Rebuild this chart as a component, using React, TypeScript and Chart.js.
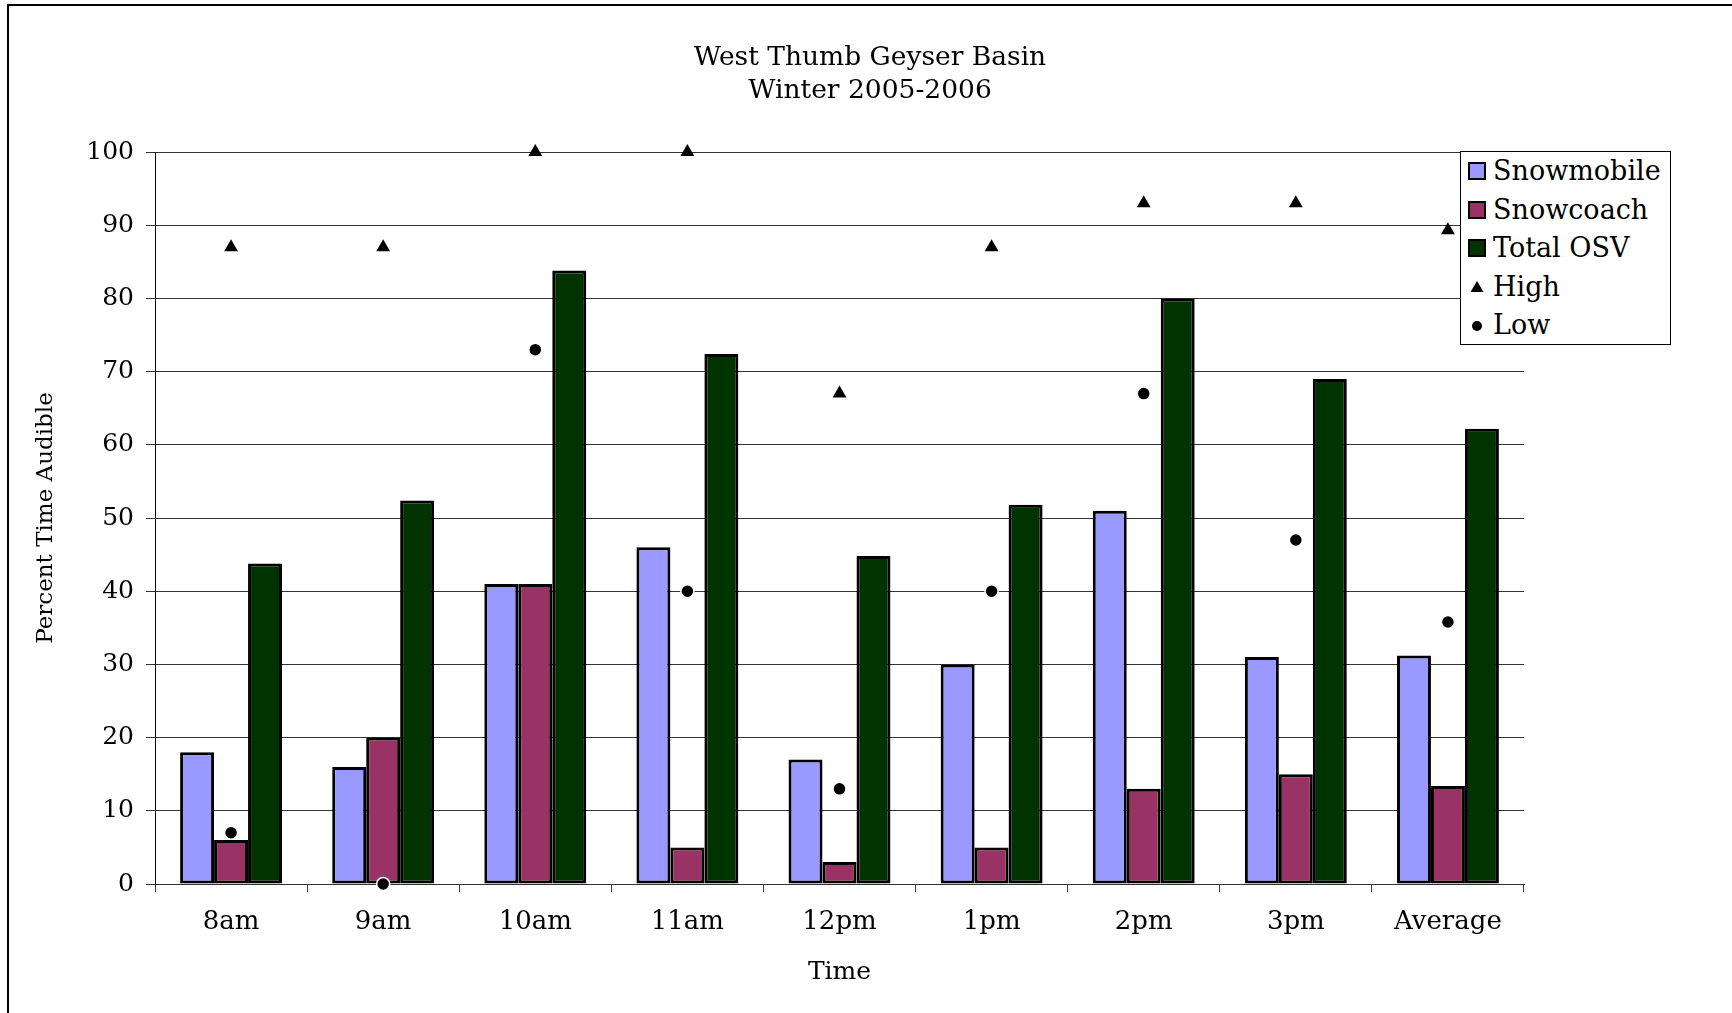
import React, { useEffect, useRef } from "react";
import { Chart, registerables } from "chart.js";

Chart.register(...registerables);

const categories = ["8am", "9am", "10am", "11am", "12pm", "1pm", "2pm", "3pm", "Average"];
const snowmobile = [18, 16, 41, 46, 17, 30, 51, 31, 31.2];
const snowcoach = [6, 20, 41, 5, 3, 5, 13, 15, 13.4];
const totalOSV = [43.8, 52.4, 83.8, 72.4, 44.8, 51.8, 80, 69, 62.2];
const high = [87, 87, 100, 100, 67, 87, 93, 93, 89.3];
const low = [7, 0, 73, 40, 13, 40, 67, 47, 35.8];
const titleLines = ["West Thumb Geyser Basin", "Winter 2005-2006"];
const xTitle = "Time";
const yTitle = "Percent Time Audible";

const COLORS = {
  snowmobile: "#9999FF",
  snowcoach: "#993366",
  total: "#003300",
};

const FONT = "'DejaVu Serif', serif";

type LegendItem = { label: string; kind: "box" | "triangle" | "circle"; color: string };
const legendItems: LegendItem[] = [
  { label: "Snowmobile", kind: "box", color: COLORS.snowmobile },
  { label: "Snowcoach", kind: "box", color: COLORS.snowcoach },
  { label: "Total OSV", kind: "box", color: COLORS.total },
  { label: "High", kind: "triangle", color: "#000" },
  { label: "Low", kind: "circle", color: "#000" },
];

function Marker({ item }: { item: LegendItem }) {
  if (item.kind === "box") {
    return (
      <svg width={18} height={18} style={{ display: "block" }}>
        <rect x={1} y={1} width={16} height={16} fill={item.color} stroke="#000" strokeWidth={2} />
      </svg>
    );
  }
  if (item.kind === "triangle") {
    return (
      <svg width={18} height={18} style={{ display: "block" }}>
        <polygon points="9,3 15.5,14 2.5,14" fill="#000" />
      </svg>
    );
  }
  return (
    <svg width={18} height={18} style={{ display: "block" }}>
      <circle cx={9} cy={10} r={5} fill="#000" />
    </svg>
  );
}

export default function App() {
  const canvasRef = useRef<HTMLCanvasElement | null>(null);

  useEffect(() => {
    const canvas = canvasRef.current;
    if (!canvas) return;
    const barBase = {
      type: "bar",
      borderColor: "#000",
      borderWidth: 3,
      borderSkipped: false,
      order: 2,
    };
    const chart = new Chart(canvas, {
      type: "bar",
      data: {
        labels: categories,
        datasets: [
          { ...barBase, label: "Snowmobile", data: snowmobile, backgroundColor: COLORS.snowmobile } as any,
          { ...barBase, label: "Snowcoach", data: snowcoach, backgroundColor: COLORS.snowcoach } as any,
          { ...barBase, label: "Total OSV", data: totalOSV, backgroundColor: COLORS.total } as any,
          {
            type: "line",
            label: "High",
            data: high,
            showLine: false,
            pointStyle: "triangle",
            pointRadius: 8,
            pointBackgroundColor: "#000",
            pointBorderColor: "#000",
            pointBorderWidth: 0,
            order: 1,
            clip: false,
          } as any,
          {
            type: "line",
            label: "Low",
            data: low,
            showLine: false,
            pointStyle: "circle",
            pointRadius: 6.5,
            pointBackgroundColor: "#000",
            pointBorderColor: "#fff",
            pointBorderWidth: 1.5,
            order: 1,
            clip: false,
          } as any,
        ],
      },
      options: {
        responsive: false,
        animation: false,
        events: [],
        layout: { padding: { left: 32, right: 208, top: 152, bottom: 26 } },
        plugins: {
          legend: { display: false },
          title: { display: false },
          tooltip: { enabled: false },
        },
        datasets: {
          bar: { categoryPercentage: 0.67, barPercentage: 1 },
        },
        scales: {
          x: {
            offset: true,
            grid: {
              display: true,
              offset: true,
              drawOnChartArea: false,
              drawTicks: true,
              tickLength: 8,
              color: "#333",
              lineWidth: 1,
            },
            border: { display: true, color: "#333", width: 1 },
            ticks: {
              font: { family: FONT, size: 26 },
              color: "#000",
              padding: 15,
              maxRotation: 0,
              autoSkip: false,
            },
            title: {
              display: true,
              text: xTitle,
              font: { family: FONT, size: 25 },
              color: "#000",
              padding: { top: 0, bottom: 0 },
            },
            afterFit: (s: any) => {
              s.height = 103;
            },
          },
          y: {
            min: 0,
            max: 100,
            ticks: {
              stepSize: 10,
              font: { family: FONT, size: 25 },
              color: "#000",
              padding: 12,
            },
            grid: {
              color: "#333",
              lineWidth: 1,
              drawTicks: true,
              tickLength: 9,
            },
            border: { display: true, color: "#000", width: 1 },
            title: {
              display: true,
              text: yTitle,
              font: { family: FONT, size: 23 },
              color: "#000",
              padding: { top: 0, bottom: 0 },
            },
            afterFit: (s: any) => {
              s.width = 123;
            },
          },
        },
      } as any,
    });
    return () => chart.destroy();
  }, []);

  return (
    <div>
      <div
        style={{
          position: "fixed",
          left: 7,
          top: 4,
          width: 2000,
          height: 2000,
          borderLeft: "2px solid #000",
          borderTop: "2px solid #000",
          boxSizing: "border-box",
        }}
      />
      <canvas
        ref={canvasRef}
        width={1732}
        height={1013}
        style={{ position: "fixed", left: 0, top: 0, width: 1732, height: 1013 }}
      />
      <div
        style={{
          position: "fixed",
          left: 470,
          top: 38.5,
          width: 800,
          textAlign: "center",
          fontFamily: FONT,
          fontSize: 26.5,
          lineHeight: "33px",
          color: "#000",
        }}
      >
        {titleLines.map((t) => (
          <div key={t}>{t}</div>
        ))}
      </div>
      <div
        style={{
          position: "fixed",
          left: 1460,
          top: 151,
          width: 211,
          height: 194,
          boxSizing: "border-box",
          border: "1px solid #000",
          background: "#fff",
          fontFamily: FONT,
          fontSize: 27,
          color: "#000",
        }}
      >
        {legendItems.map((it) => (
          <div
            key={it.label}
            style={{ height: 38.5, display: "flex", alignItems: "center", whiteSpace: "nowrap" }}
          >
            <div style={{ marginLeft: 7, width: 18 }}>
              <Marker item={it} />
            </div>
            <span style={{ marginLeft: 7, lineHeight: "38px" }}>{it.label}</span>
          </div>
        ))}
      </div>
    </div>
  );
}
